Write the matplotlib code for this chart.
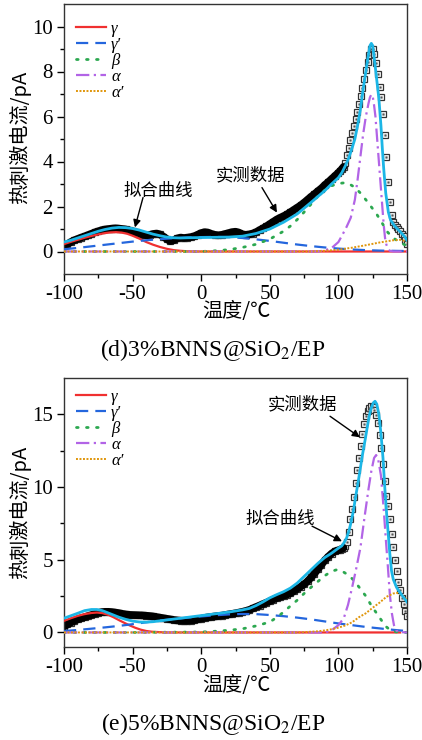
import numpy as np
import matplotlib
matplotlib.use("Agg")
import matplotlib.pyplot as plt

plt.rcParams['font.family'] = ['Liberation Serif', 'DejaVu Serif']
plt.rcParams['mathtext.fontset'] = 'stix'
plt.rcParams['axes.unicode_minus'] = False

CJK = ['Noto Sans CJK SC', 'DejaVu Sans']

# ---------------- panel (d) 3%BNNS@SiO2/EP ----------------
d_meas_T = np.r_[np.arange(-100, 100.1, 2.5), np.arange(101.25, 150.1, 1.25)]
d_meas_I = [0.25, 0.33, 0.42, 0.50, 0.56, 0.62, 0.67, 0.73, 0.79, 0.85,
            0.90, 0.95, 0.98, 1.00, 1.02, 1.03, 1.02, 1.00, 0.98, 0.94,
            0.90, 0.85, 0.80, 0.75, 0.72, 0.74, 0.78, 0.80, 0.76, 0.66,
            0.55, 0.46, 0.50, 0.58, 0.62, 0.60, 0.62, 0.64, 0.68, 0.75,
            0.82, 0.86, 0.84, 0.78, 0.74, 0.72, 0.74, 0.78, 0.82, 0.86,
            0.88, 0.84, 0.76, 0.74, 0.76, 0.80, 0.86, 0.95, 1.03, 1.12,
            1.22, 1.32, 1.42, 1.50, 1.57, 1.65, 1.75, 1.85, 1.95, 2.05,
            2.17, 2.30, 2.43, 2.55, 2.68, 2.80, 2.95, 3.08, 3.22, 3.36,
            3.50,
            3.58, 3.66, 3.76, 3.95, 4.28, 4.62, 4.95, 5.28, 5.58, 5.90,
            6.22, 6.55, 6.92, 7.28, 7.65, 8.05, 8.42, 8.75, 9.00, 9.02,
            8.78, 8.38, 7.88, 7.32, 6.85, 6.10, 5.20, 4.20, 3.10, 2.20,
            1.62, 1.32, 1.16, 1.08, 1.00, 0.92, 0.80, 0.68, 0.52, 0.35]

d_fit_T = [-100, -95, -90, -85, -80, -75, -70, -65, -60, -55, -50, -45, -40, -35, -30, -25, -20, -15, -10,
           0, 10, 20, 30, 40, 50, 60, 70, 80, 90,
           95, 100, 102.5, 105, 107.5, 110, 112, 114, 116, 118, 120,
           121.5, 123, 124, 125, 126.5, 128, 129.5, 131, 132, 133,
           134.5, 136.4, 138, 141, 145, 148, 150]
d_fit_I = [0.42, 0.5, 0.6, 0.7, 0.8, 0.9, 0.98, 1.04, 1.07, 1.06, 1.02, 0.95, 0.86, 0.77, 0.7, 0.64, 0.61, 0.6, 0.61,
           0.62, 0.63, 0.64, 0.68, 0.8, 1.0, 1.3, 1.67, 2.18, 2.7,
           3.0, 3.28, 3.5, 3.8, 4.15, 4.6, 5.0, 5.6, 6.3, 7.2, 8.0,
           8.6, 9.15, 9.25, 9.15, 8.4, 7.6, 6.8, 5.6, 4.6, 3.7,
           2.6, 1.75, 1.4, 1.13, 0.88, 0.68, 0.5]

d_g_T = [-100, -95, -90, -85, -80, -75, -70, -66, -62, -58, -54, -50, -45, -40, -35, -30, -25, -20, -15, -10, -5, 0, 50, 100, 150]
d_g_I = [0.33, 0.43, 0.52, 0.61, 0.69, 0.76, 0.82, 0.85, 0.86, 0.84, 0.79, 0.7, 0.57, 0.42, 0.3, 0.2, 0.12, 0.06, 0.03, 0.01, 0, 0, 0, 0, 0]

d_gp_T = [-100, -90, -80, -70, -60, -50, -40, -30, -20, -10, 0, 10, 20, 30, 40, 50, 60, 70, 80, 90, 100, 110, 120, 130, 140, 150]
d_gp_I = [0.1, 0.16, 0.23, 0.3, 0.37, 0.44, 0.5, 0.55, 0.59, 0.62, 0.64, 0.65, 0.64, 0.6, 0.54, 0.47, 0.39, 0.31, 0.24, 0.18, 0.13, 0.09, 0.06, 0.04, 0.03, 0.02]

d_b_T = [-100, -50, 0, 10, 20, 30, 40, 50, 60, 65, 70, 75, 80, 85, 90, 95, 100, 104, 108, 112, 116, 120, 124, 128, 132, 136, 140, 145, 150]
d_b_I = [0, 0, 0, 0.03, 0.08, 0.18, 0.32, 0.55, 0.9, 1.13, 1.42, 1.75, 2.1, 2.45, 2.72, 2.92, 3.02, 3.05, 3.0, 2.85, 2.6, 2.3, 1.98, 1.65, 1.25, 0.85, 0.6, 0.4, 0.25]

d_a_T = [-100, 85, 90, 95, 100, 103, 106, 109, 112, 114, 116, 118, 120, 122, 123, 124, 125, 126, 127, 128, 129, 130, 131, 132, 133, 134, 135, 136, 137, 138, 140, 150]
d_a_I = [0, 0, 0.05, 0.15, 0.42, 0.75, 1.1, 1.5, 2.3, 3.2, 4.2, 5.2, 6.0, 6.6, 6.85, 6.98, 6.9, 6.5, 6.0, 5.2, 4.4, 3.6, 2.8, 2.0, 1.2, 0.6, 0.3, 0.15, 0.06, 0.02, 0, 0]

d_ap_T = [-100, 80, 90, 100, 110, 120, 130, 140, 145, 150]
d_ap_I = [0, 0, 0.03, 0.08, 0.17, 0.28, 0.4, 0.5, 0.52, 0.45]

# ---------------- panel (e) 5%BNNS@SiO2/EP ----------------
e_meas_T = np.r_[np.arange(-100, 100.1, 2.5), np.arange(101.25, 150.1, 1.25)]
e_meas_I = [0.40, 0.55, 0.68, 0.80, 0.90, 0.98, 1.05, 1.13, 1.20, 1.28,
            1.35, 1.40, 1.42, 1.42, 1.40, 1.37, 1.33, 1.28, 1.24, 1.21,
            1.20, 1.19, 1.18, 1.17, 1.15, 1.13, 1.10, 1.06, 1.02, 0.98,
            0.94, 0.90, 0.86, 0.83, 0.81, 0.80, 0.80, 0.82, 0.85, 0.90,
            0.95, 1.00, 1.04, 1.07, 1.10, 1.13, 1.16, 1.20, 1.24, 1.28,
            1.32, 1.37, 1.42, 1.48, 1.55, 1.65, 1.75, 1.85, 1.95, 2.05,
            2.15, 2.26, 2.36, 2.44, 2.52, 2.60, 2.70, 2.84, 3.00, 3.15,
            3.32, 3.52, 3.78, 4.05, 4.35, 4.65, 4.95, 5.20, 5.42, 5.58,
            5.65,
            5.70, 5.75, 5.82, 5.95, 6.20, 6.90, 7.80, 8.50, 9.30, 10.30,
            11.20, 12.00, 12.85, 13.65, 14.35, 14.90, 15.25, 15.45, 15.55, 15.52,
            15.30, 14.95, 14.40, 13.60, 12.70, 11.60, 10.40, 9.40, 8.70, 7.80,
            6.80, 5.90, 5.00, 4.20, 3.50, 2.90, 2.40, 1.95, 1.50, 1.15]

e_fit_T = [-100, -95, -90, -85, -80, -76, -72, -68, -64, -60, -55, -50, -45, -40, -35, -30, -20, -10, 0, 10,
           20, 30, 35, 40, 45, 50, 55, 60, 65, 70, 75, 80, 85, 90, 95, 100, 102.4, 104, 106, 108,
           109.5, 111, 112.5, 114.5, 116, 117.5, 119.4, 121, 122.5, 124, 125.5, 126.7, 128, 129.5, 131,
           132.5, 134, 135.2, 136.3, 137.5, 138.7, 140, 142.4, 146, 150]
e_fit_I = [0.98, 1.15, 1.32, 1.5, 1.58, 1.58, 1.5, 1.35, 1.2, 1.05, 0.9, 0.78, 0.72, 0.71, 0.74, 0.8, 0.92, 1.04, 1.16, 1.28,
           1.4, 1.55, 1.65, 1.85, 2.1, 2.38, 2.6, 2.8, 3.05, 3.4, 3.85, 4.3, 4.75, 5.15, 5.45, 5.8, 5.95, 6.15, 6.5, 7.1,
           7.7, 8.4, 9.3, 10.4, 11.3, 12.2, 13.2, 14.1, 14.9, 15.45, 15.8, 15.9, 15.7, 15.0, 13.7,
           12.0, 9.7, 8.1, 6.8, 5.4, 4.25, 3.65, 3.1, 2.6, 2.1]

e_g_T = [-100, -95, -90, -85, -80, -76, -72, -68, -64, -60, -56, -52, -48, -44, -40, -36, -30, -25, 0, 50, 100, 145]
e_g_I = [0.8, 0.98, 1.14, 1.26, 1.34, 1.37, 1.33, 1.22, 1.05, 0.85, 0.66, 0.48, 0.32, 0.19, 0.1, 0.05, 0.02, 0, 0, 0, 0, 0]

e_gp_T = [-100, -90, -80, -70, -60, -50, -40, -30, -20, -10, 0, 10, 20, 30, 40, 50, 60, 70, 80, 90, 100, 110, 120, 130, 140, 150]
e_gp_I = [0.1, 0.17, 0.26, 0.35, 0.45, 0.57, 0.7, 0.82, 0.92, 1.02, 1.1, 1.18, 1.24, 1.27, 1.26, 1.2, 1.12, 1.02, 0.9, 0.76, 0.62, 0.5, 0.38, 0.28, 0.18, 0.1]

e_b_T = [-100, -50, 0, 10, 20, 30, 40, 50, 55, 60, 65, 70, 75, 80, 85, 90, 95, 99, 103, 108, 112, 116, 120, 124, 128, 132, 135, 138, 142, 150]
e_b_I = [0, 0, 0.03, 0.08, 0.15, 0.25, 0.45, 0.72, 1.03, 1.4, 1.82, 2.22, 2.68, 3.1, 3.5, 3.9, 4.2, 4.32, 4.2, 3.9, 3.5, 3.0, 2.5, 1.85, 1.3, 0.75, 0.38, 0.15, 0.04, 0]

e_a_T = [-100, 90, 95, 100, 104, 107, 110, 113, 116, 119, 122, 124, 126, 127.5, 129, 131, 133, 134.5, 136, 137.5, 139, 140.5, 142, 144, 150]
e_a_I = [0, 0, 0.15, 0.5, 1.0, 1.9, 3.1, 4.4, 5.8, 7.9, 9.9, 11.1, 12.0, 12.2, 11.9, 10.8, 8.5, 6.5, 4.6, 2.6, 1.3, 0.5, 0.15, 0.03, 0]

e_ap_T = [-100, 70, 75, 80, 85, 90, 95, 100, 105, 110, 115, 120, 125, 130, 135, 140, 143, 146, 150]
e_ap_I = [0, 0, 0.02, 0.05, 0.08, 0.14, 0.22, 0.33, 0.48, 0.7, 1.05, 1.32, 1.7, 2.05, 2.45, 2.68, 2.72, 2.6, 2.25]

labels = ['γ', 'γ′', 'β', 'α', 'α′']

# ---------------- styles ----------------
C_RED = '#f03030'
C_BLUE = '#2466dd'
C_GREEN = '#2ca850'
C_PURPLE = '#b264e6'
C_ORANGE = '#e0960c'
C_CYAN = '#1cb6e6'

fig = plt.figure(figsize=(4.22, 7.4), dpi=100)
W, H = 422.0, 740.0
ax1 = fig.add_axes([64 / W, 1 - 274 / H, 343 / W, 270 / H])
ax2 = fig.add_axes([64 / W, 1 - 647 / H, 343 / W, 269 / H])


def draw(ax, mT, mI, fT, fI, comps, band_end):
    mT = np.asarray(mT)
    mI = np.asarray(mI)
    ax.plot(mT, mI, ls='none', marker='s', ms=4.0, mfc='white', mec='#333333', mew=0.9, zorder=2)
    ax.plot(mT, mI, ls='none', marker='s', ms=1.2, mfc='#555555', mec='#555555', mew=0.3, zorder=2.1)
    sel = mT <= band_end
    ax.plot(mT[sel], mI[sel], color='black', lw=5.5, solid_capstyle='round', zorder=2.5)
    styles = [
        dict(color=C_RED, lw=1.6, ls='-'),
        dict(color=C_BLUE, lw=1.6, ls=(0, (5.5, 3.2))),
        dict(color=C_GREEN, lw=2.0, ls=(0, (0.6, 3.0)), dash_capstyle='round'),
        dict(color=C_PURPLE, lw=1.6, ls=(0, (6, 2, 1, 2))),
        dict(color=C_ORANGE, lw=1.4, ls=(0, (1, 0.8))),
    ]
    for (T, I), st, lab in zip(comps, styles, labels):
        ax.plot(T, I, label=lab, zorder=3, **st)
    ax.plot(fT, fI, color=C_CYAN, lw=2.0, zorder=4, solid_joinstyle='round')


draw(ax1, d_meas_T, d_meas_I, d_fit_T, d_fit_I,
     [(d_g_T, d_g_I), (d_gp_T, d_gp_I), (d_b_T, d_b_I), (d_a_T, d_a_I), (d_ap_T, d_ap_I)], 104)
draw(ax2, e_meas_T, e_meas_I, e_fit_T, e_fit_I,
     [(e_g_T, e_g_I), (e_gp_T, e_gp_I), (e_b_T, e_b_I), (e_a_T, e_a_I), (e_ap_T, e_ap_I)], 104)

for ax, ylim, ymaj, ymin, leg_y in [(ax1, (-1, 11), 2, 1, 0.937), (ax2, (-1, 17.5), 5, 2.5, 0.958)]:
    ax.set_xlim(-100, 150)
    ax.set_ylim(*ylim)
    ax.set_xticks([-100, -50, 0, 50, 100, 150])
    ax.set_xticks([-75, -25, 25, 75, 125], minor=True)
    ax.set_yticks(np.arange(0, ylim[1], ymaj))
    ax.set_yticks(np.arange(ymin, ylim[1], ymaj), minor=True)
    ax.tick_params(which='major', direction='out', length=5, width=1, labelsize=15, pad=3)
    ax.tick_params(which='minor', direction='out', length=3, width=1)
    ax.tick_params(top=False, right=False)
    for sp in ax.spines.values():
        sp.set_linewidth(1.0)
        sp.set_color('#333333')
    ax.legend(loc='upper left', bbox_to_anchor=(0.035, leg_y), frameon=False,
              borderaxespad=0, borderpad=0, handlelength=1.8, handletextpad=0.3,
              labelspacing=0.0, prop=dict(family=['Liberation Serif', 'DejaVu Serif'], style='italic', size=12))

# axis labels and titles
for yc_x, yc_y, ttl, ttl_y in [(311, 137, '(d)3%BNNS@SiO$_2$/EP', 350), (685, 512, '(e)5%BNNS@SiO$_2$/EP', 724)]:
    fig.text(236 / W, 1 - yc_x / H, '温度/℃', family=CJK, fontsize=14.5, fontweight='light', ha='center', va='center')
    fig.text(20 / W, 1 - yc_y / H, '热刺激电流/pA', family=CJK, fontsize=14.5, fontweight='light',
             ha='center', va='center', rotation=90)
    fig.text(213 / W, 1 - ttl_y / H, ttl, fontsize=17, ha='center', va='center')

# annotations
arrow = dict(arrowstyle='-|>', color='black', lw=1.0, mutation_scale=11, shrinkA=0, shrinkB=0)
ax1.text(-31.5, 2.71, '拟合曲线', family=CJK, fontsize=12.5, fontweight='light', ha='center', va='center')
ax1.annotate('', xy=(-48.3, 1.07), xytext=(-42.4, 2.4), arrowprops=arrow)
ax1.text(35.6, 3.38, '实测数据', family=CJK, fontsize=12.5, fontweight='light', ha='center', va='center')
ax1.annotate('', xy=(55.2, 1.73), xytext=(44.3, 2.84), arrowprops=arrow)
ax2.text(73.5, 15.69, '实测数据', family=CJK, fontsize=12.5, fontweight='light', ha='center', va='center')
ax2.annotate('', xy=(115.7, 13.42), xytext=(93.9, 14.87), arrowprops=arrow)
ax2.text(57.4, 7.79, '拟合曲线', family=CJK, fontsize=12.5, fontweight='light', ha='center', va='center')
ax2.annotate('', xy=(102.6, 6.27), xytext=(80.8, 7.31), arrowprops=arrow)

fig.savefig('out.png', dpi=100)
